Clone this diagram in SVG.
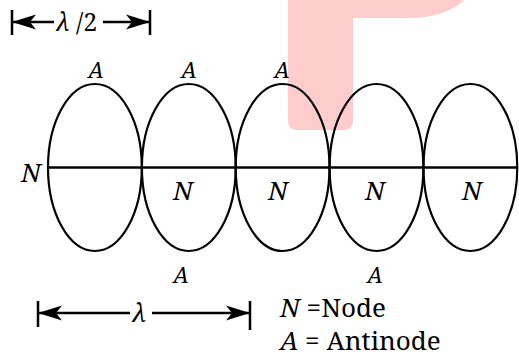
<svg xmlns="http://www.w3.org/2000/svg" width="519" height="356" viewBox="0 0 519 356">
<style>
.a{font-size:22px;text-anchor:middle;font-style:italic}
.n{font-size:26px;text-anchor:middle;font-style:italic}
.leg{font-size:26px}
.loop{fill:none;stroke:#000;stroke-width:2.2}
.ln{stroke:#000;stroke-width:2.5;fill:none}
</style>
<defs>
<marker id="ah" viewBox="0 -8 24 16" refX="24" refY="0" markerWidth="24" markerHeight="16" markerUnits="userSpaceOnUse" orient="auto-start-reverse">
<path d="M24,0 L0,-7.5 L6,0 L0,7.5 Z" fill="#000"/>
</marker>
</defs>
<rect width="519" height="356" fill="#fff"/>
<path id="watermark" d="M288,0 L464,0 C452,12 432,18 408,18 L353,18 L353,121 Q353,130 343,130 L298,130 Q288,130 288,121 Z" fill="#ffcccc"/>
<g id="loops">
<ellipse id="loop1" class="loop" cx="94.9" cy="167.5" rx="46.9" ry="83.5"/>
<ellipse id="loop2" class="loop" cx="188.8" cy="167.5" rx="46.9" ry="83.5"/>
<ellipse id="loop3" class="loop" cx="282.6" cy="167.5" rx="46.9" ry="83.5"/>
<ellipse id="loop4" class="loop" cx="376.5" cy="167.5" rx="46.9" ry="83.5"/>
<ellipse id="loop5" class="loop" cx="470.4" cy="167.5" rx="46.9" ry="83.5"/>
</g>
<g id="connectors">
<line class="ln" x1="48" y1="167.5" x2="518" y2="167.5"/>
<line class="ln" x1="12" y1="10" x2="12" y2="35"/>
<line class="ln" x1="150" y1="10" x2="150" y2="35"/>
<line class="ln" x1="12" y1="22" x2="54" y2="22" marker-start="url(#ah)"/>
<line class="ln" x1="103" y1="22" x2="150" y2="22" marker-end="url(#ah)"/>
<line class="ln" x1="38" y1="301" x2="38" y2="327"/>
<line class="ln" x1="250" y1="301" x2="250" y2="330"/>
<line class="ln" x1="38" y1="313" x2="130" y2="313" marker-start="url(#ah)"/>
<line class="ln" x1="152" y1="313" x2="250" y2="313" marker-end="url(#ah)"/>
</g>
<g id="labels">
<text font-family="Noto Serif" font-style="italic" x="56" y="31" font-size="25">λ</text>
<text font-family="Noto Serif" x="76" y="31" font-size="25">/2</text>
<text font-family="Noto Serif" font-style="italic" x="132" y="322" font-size="26">λ</text>
<text font-family="Noto Serif" class="a" x="96" y="78">A</text>
<text font-family="Noto Serif" class="a" x="189" y="78">A</text>
<text font-family="Noto Serif" class="a" x="282" y="78">A</text>
<text font-family="Noto Serif" class="a" x="181" y="283">A</text>
<text font-family="Noto Serif" class="a" x="375" y="283">A</text>
<text font-family="Noto Serif" class="n" x="31" y="182">N</text>
<text font-family="Noto Serif" class="n" x="183" y="200">N</text>
<text font-family="Noto Serif" class="n" x="278" y="200">N</text>
<text font-family="Noto Serif" class="n" x="375" y="200">N</text>
<text font-family="Noto Serif" class="n" x="472" y="200">N</text>
</g>
<g id="legend">
<text font-family="Noto Serif" class="leg" x="280" y="317"><tspan font-style="italic">N</tspan> =Node</text>
<text font-family="Noto Serif" class="leg" x="280" y="350"><tspan font-style="italic">A</tspan> = Antinode</text>
</g>
</svg>
